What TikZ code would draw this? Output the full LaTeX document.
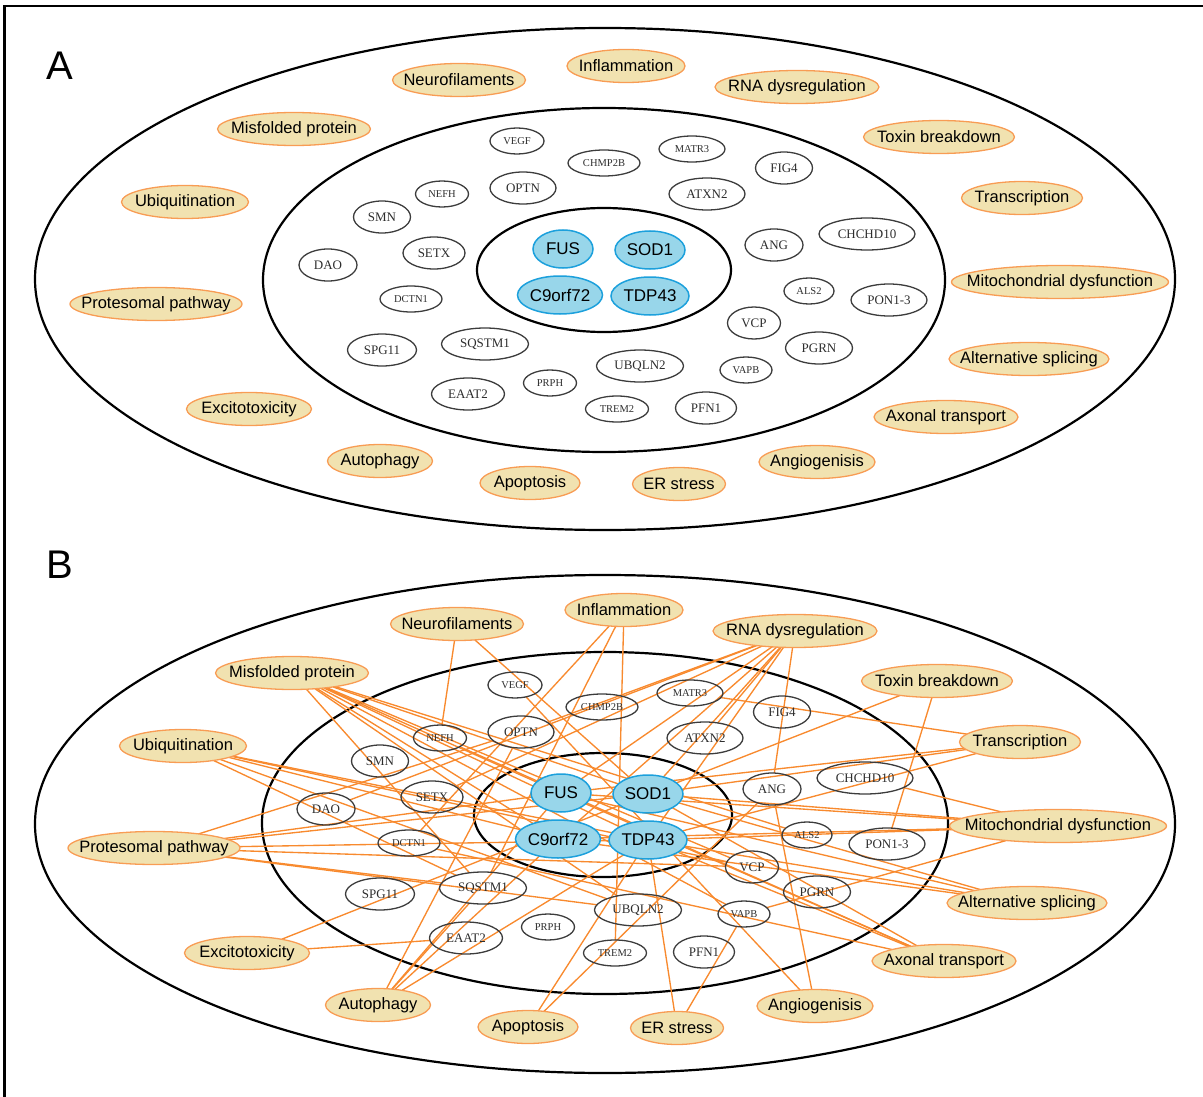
\documentclass[tikz,border=0pt]{standalone}
\usepackage{fontspec}
\setmainfont{Liberation Serif}
\setsansfont{Liberation Sans}
\usetikzlibrary{shapes.geometric,backgrounds}

\definecolor{procfill}{RGB}{241,226,176}
\definecolor{procline}{RGB}{248,156,84}
\definecolor{edgecol}{RGB}{248,138,46}
\definecolor{corefill}{RGB}{152,214,234}
\definecolor{coreline}{RGB}{28,160,220}
\definecolor{genetext}{RGB}{45,45,45}
\definecolor{geneline}{RGB}{60,60,60}

\tikzset{
  base/.style={ellipse, inner sep=0pt, outer sep=0pt},
  proc/.style={base, fill=procfill, draw=procline, line width=1.3pt, minimum height=33pt,
    font=\sffamily\fontsize{16.5}{18}\selectfont},
  gene/.style={base, draw=geneline, line width=1.3pt, minimum height=32pt, text=genetext,
    font=\rmfamily\fontsize{13}{14}\selectfont},
  gsmall/.style={gene, minimum height=26pt, font=\rmfamily\fontsize{10.5}{12}\selectfont},
  core/.style={base, fill=corefill, draw=coreline, line width=1.5pt, minimum height=38pt,
    font=\sffamily\fontsize{17}{19}\selectfont},
  ring/.style={draw=black, line width=2.2pt},
  link/.style={draw=edgecol, line width=1.35pt},
  panellabel/.style={font=\sffamily\fontsize{40}{40}\selectfont},
}

% style, name, centre, width, text
\newcommand\nd[5]{\node[#1, minimum width=#4pt] (#2) at (#3) {\makebox[0pt]{#5}};}

\newcommand\allnodes{%
  % processes
  \nd{proc}{neuro}{459,80}{133}{Neurofilaments}
  \nd{proc}{infl}{626,66}{118}{Inflammation}
  \nd{proc}{rna}{797,87}{164}{RNA dysregulation}
  \nd{proc}{misf}{294,129}{153}{Misfolded protein}
  \nd{proc}{toxin}{939,137}{151}{Toxin breakdown}
  \nd{proc}{ubiq}{185,202}{127}{Ubiquitination}
  \nd{proc}{transc}{1022,198}{121}{Transcription}
  \nd{proc}{mito}{1060,282}{217}{Mitochondrial dysfunction}
  \nd{proc}{prot}{156,304}{172}{Protesomal pathway}
  \nd{proc}{alts}{1029,359}{160}{Alternative splicing}
  \nd{proc}{excit}{249,409}{125}{Excitotoxicity}
  \nd{proc}{axon}{946,417}{144}{Axonal transport}
  \nd{proc}{autoph}{380,461}{105}{Autophagy}
  \nd{proc}{angio}{817,462}{116}{Angiogenisis}
  \nd{proc}{apop}{530,483}{100}{Apoptosis}
  \nd{proc}{er}{679,484}{93}{ER stress}
  % genes
  \nd{gsmall}{VEGF}{517,141}{54}{VEGF}
  \nd{gsmall}{CHMP}{604,163}{72}{CHMP2B}
  \nd{gsmall}{MATR}{692,149}{66}{MATR3}
  \nd{gene}{FIG}{784,168}{57}{FIG4}
  \nd{gene}{OPTN}{523,188}{66}{OPTN}
  \nd{gene}{ATXN}{707,194}{76}{ATXN2}
  \nd{gsmall}{NEFH}{442,194}{53}{NEFH}
  \nd{gene}{SMN}{382,217}{57}{SMN}
  \nd{gene}{SETX}{434,253}{62}{SETX}
  \nd{gene}{DAO}{328,265}{58}{DAO}
  \nd{gsmall}{DCTN}{411,299}{62}{DCTN1}
  \nd{gene}{SPG}{382,350}{69}{SPG11}
  \nd{gene}{SQST}{485,344}{87}{SQSTM1}
  \nd{gene}{EAAT}{468,394}{73}{EAAT2}
  \nd{gsmall}{PRPH}{550,383}{53}{PRPH}
  \nd{gene}{UBQL}{640,366}{87}{UBQLN2}
  \nd{gsmall}{TREM}{617,409}{63}{TREM2}
  \nd{gene}{PFN}{706,408}{61}{PFN1}
  \nd{gsmall}{VAPB}{746,370}{52}{VAPB}
  \nd{gene}{VCP}{754,323}{53}{VCP}
  \nd{gene}{PGRN}{819,348}{67}{PGRN}
  \nd{gsmall}{ALS}{809,291}{50}{ALS2}
  \nd{gene}{PON}{889,300}{76}{PON1-3}
  \nd{gene}{ANG}{774,245}{58}{ANG}
  \nd{gene}{CHCH}{867,234}{96}{CHCHD10}
  % core genes
  \nd{core}{FUS}{563,249}{60}{FUS}
  \nd{core}{SOD}{650,250}{70}{SOD1}
  \nd{core}{C9}{560,295}{85}{C9orf72}
  \nd{core}{TDP}{650,296}{78}{TDP43}
}

\begin{document}
\begin{tikzpicture}[x=1pt,y=-1pt]
\useasboundingbox (0,0) rectangle (1203,1097);

% frame
\draw[line width=2.5pt] (4.5,1097) -- (4.5,6) -- (1203,6);

% panel A
\node[panellabel] (labA) at (60,66) {A};
\draw[ring] (605,279) ellipse [x radius=570pt, y radius=251pt];
\draw[ring] (604,280) ellipse [x radius=341pt, y radius=172pt];
\draw[ring] (604,270) ellipse [x radius=127pt, y radius=62pt];
\allnodes

% panel B
\node[panellabel] (labB) at (60,565) {B};
\begin{scope}[on background layer]
  \draw[ring] (605,824) ellipse [x radius=570pt, y radius=249pt];
  \draw[ring] (605,823) ellipse [x radius=343pt, y radius=171pt];
  \draw[ring] (603,815) ellipse [x radius=129pt, y radius=62pt];
\end{scope}
\begin{scope}[shift={(-2,544)}, name prefix=b-]
  \allnodes
  \begin{scope}[on background layer]
    \foreach \g in {NEFH,SOD} \draw[link] (neuro) -- (\g);
    \foreach \g in {TREM,DCTN,SQST} \draw[link] (infl) -- (\g);
    \foreach \g in {FUS,TDP,C9,SOD,ATXN,SETX,ANG,DAO,OPTN} \draw[link] (rna) -- (\g);
    \foreach \g in {SOD,ALS,VCP,FUS,TDP,VAPB,C9,UBQL,SQST} \draw[link] (misf) -- (\g);
    \foreach \g in {SOD,PON} \draw[link] (toxin) -- (\g);
    \foreach \g in {TDP,C9,UBQL,SQST,VCP} \draw[link] (ubiq) -- (\g);
    \foreach \g in {MATR,FUS,SOD,TDP} \draw[link] (transc) -- (\g);
    \foreach \g in {CHCH,SOD,TDP,C9,VAPB,FUS} \draw[link] (mito) -- (\g);
    \foreach \g in {OPTN,FUS,TDP,VCP,UBQL,SQST,SOD} \draw[link] (prot) -- (\g);
    \foreach \g in {FUS,TDP,SOD,C9} \draw[link] (alts) -- (\g);
    \foreach \g in {EAAT,SOD} \draw[link] (excit) -- (\g);
    \foreach \g in {SOD,TDP,FUS,NEFH,DCTN} \draw[link] (axon) -- (\g);
    \foreach \g in {OPTN,SQST,C9,TDP,FUS} \draw[link] (autoph) -- (\g);
    \foreach \g in {ANG,VEGF} \draw[link] (angio) -- (\g);
    \foreach \g in {TDP,ANG} \draw[link] (apop) -- (\g);
    \foreach \g in {TDP,VAPB} \draw[link] (er) -- (\g);
  \end{scope}
\end{scope}
\end{tikzpicture}
\end{document}
